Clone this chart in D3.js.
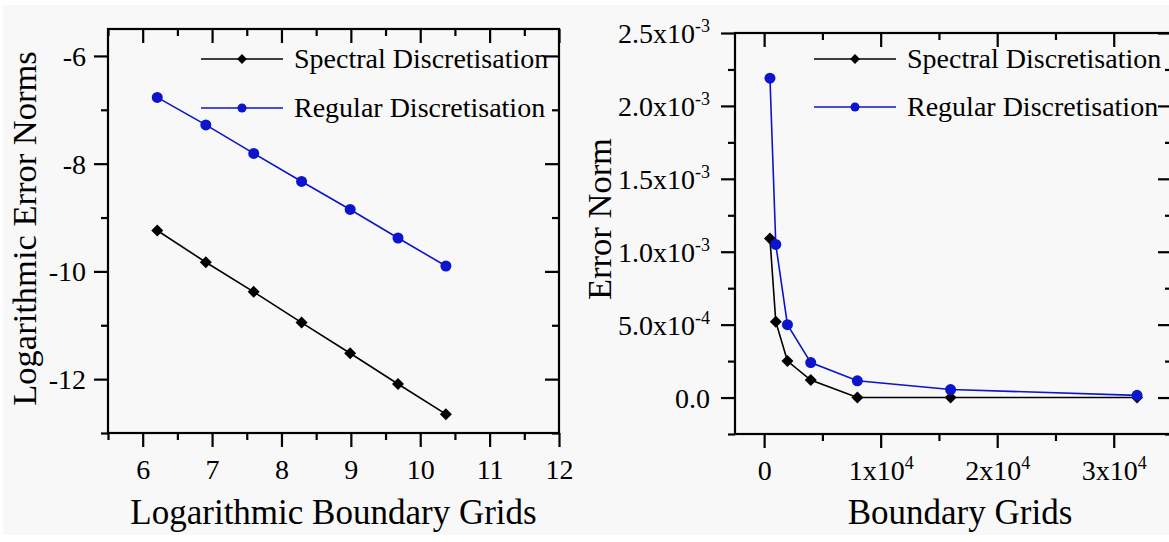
<!DOCTYPE html>
<html>
<head>
<meta charset="utf-8">
<script src="https://cdn.jsdelivr.net/npm/d3@7"></script>
<style>
  body { margin: 0; background: #ffffff; }
  svg { display: block; font-family: "Liberation Serif", "Times New Roman", serif; }
</style>
</head>
<body>
<script>
// series names, shared by both panels
var seriesNames = ["Spectral Discretisation", "Regular Discretisation"];

// left panel: log of boundary grids vs log of error norms
var logGrids = [6.21, 6.91, 7.60, 8.29, 8.99, 9.68, 10.37];
var logSpectral = [-9.24, -9.83, -10.38, -10.95, -11.52, -12.09, -12.65];
var logRegular = [-6.77, -7.28, -7.81, -8.33, -8.85, -9.38, -9.90];
var leftXTicks = [6, 7, 8, 9, 10, 11, 12];
var leftYTicks = [-6, -8, -10, -12];

// right panel: boundary grids vs error norm
var grids = [500, 1000, 2000, 4000, 8000, 16000, 32000];
var errSpectral = [1.09e-3, 5.2e-4, 2.5e-4, 1.2e-4, 0, 0, 0];
var errRegular = [2.19e-3, 1.05e-3, 5.0e-4, 2.4e-4, 1.15e-4, 5.5e-5, 1.5e-5];
var rightXTicks = [0, 1e4, 2e4, 3e4];
var rightYTicks = [0, 5e-4, 1e-3, 1.5e-3, 2e-3, 2.5e-3];

var W = 1169, H = 542;
var ink = "#000", blue = "#0c14cc";

var svg = d3.select("body").append("svg")
    .attr("width", W)
    .attr("height", H);

svg.append("rect").attr("width", W).attr("height", H).attr("fill", "#fff");
svg.append("rect").attr("x", 3).attr("y", 5).attr("width", W).attr("height", 530).attr("fill", "#f8f8f8");

// split a number into mantissa / exponent parts for the "x10" labels
function sci(v, digits) {
    if (v === 0) return null;
    var e = Math.floor(Math.log10(Math.abs(v)) + 1e-9);
    var m = v / Math.pow(10, e);
    return { m: digits ? m.toFixed(digits) : Math.round(m).toString(), e: e };
}

function writeLabel(textSel, v, mode) {
    textSel.text(null);
    if (mode == "plain") { textSel.text(v); return; }
    var s = sci(v, mode == "y" ? 1 : 0);
    if (!s) { textSel.text(mode == "y" ? "0.0" : "0"); return; }
    textSel.append("tspan").text(s.m + "x10");
    textSel.append("tspan").attr("font-size", 18).attr("dy", -11).text(s.e);
}

function panel(opt) {
    var x = d3.scaleLinear().domain(opt.xDomain).range(opt.xRange);
    var y = d3.scaleLinear().domain(opt.yDomain).range(opt.yRange);
    var g = svg.append("g");
    var x0 = opt.xRange[0], x1 = opt.xRange[1], y0 = opt.yRange[0], y1 = opt.yRange[1];

    function ax(a, tx, ty, vals, size, labels) {
        var gg = g.append("g").attr("transform", "translate(" + tx + "," + ty + ")")
            .call(a.tickValues(vals).tickSize(size).tickSizeOuter(0).tickPadding(14)
                .tickFormat(labels ? null : ""));
        gg.attr("font-family", null).attr("font-size", null);
        gg.select(".domain").remove();
        gg.selectAll("line").attr("stroke", ink).attr("stroke-width", 2.2);
        return gg;
    }
    // bottom + left with labels, ticks outward
    var bx = ax(d3.axisBottom(x), 0, y0, opt.xMajor, 14, true);
    ax(d3.axisBottom(x), 0, y0, opt.xMinor, 7, false);
    var ly = ax(d3.axisLeft(y), x0, 0, opt.yMajor, 14, true);
    ax(d3.axisLeft(y), x0, 0, opt.yMinor, 7, false);
    // top + right, ticks inward
    ax(d3.axisTop(x), 0, y1, opt.xMajor, -14, false);
    ax(d3.axisTop(x), 0, y1, opt.xMinor, -7, false);
    ax(d3.axisRight(y), x1, 0, opt.yMajor, -14, false);
    ax(d3.axisRight(y), x1, 0, opt.yMinor, -7, false);

    bx.selectAll("text").attr("font-size", 28).attr("fill", ink)
        .attr("y", 46).attr("dy", null)
        .each(function(d) { writeLabel(d3.select(this), d, opt.xMode); });
    ly.selectAll("text").attr("font-size", 28).attr("fill", ink)
        .attr("x", -opt.yLabelGap).attr("dy", "0.34em")
        .each(function(d) { writeLabel(d3.select(this), d, opt.yMode); });

    g.append("rect")
        .attr("x", x0).attr("y", y1)
        .attr("width", x1 - x0).attr("height", y0 - y1)
        .attr("fill", "none").attr("stroke", ink).attr("stroke-width", 2.2);

    // axis titles
    g.append("text")
        .attr("transform", "translate(" + opt.xTitlePos + ")")
        .attr("text-anchor", "middle").attr("font-size", 35).attr("fill", ink)
        .text(opt.xTitle);
    g.append("text")
        .attr("transform", "translate(" + opt.yTitlePos + ") rotate(-90)")
        .attr("text-anchor", "middle").attr("font-size", 34.5).attr("fill", ink)
        .text(opt.yTitle);

    var series = [
        { name: seriesNames[0], ys: opt.spectral, color: ink, shape: "diamond" },
        { name: seriesNames[1], ys: opt.regular, color: blue, shape: "circle" }
    ];
    var line = d3.line().x(function(d) { return x(d[0]); }).y(function(d) { return y(d[1]); });

    function marker(sel, s, big) {
        if (s.shape == "diamond") {
            sel.attr("d", d3.symbol(d3.symbolSquare, big ? 72 : 48)());
        } else {
            sel.attr("d", d3.symbol(d3.symbolCircle, big ? 95 : 64)());
        }
        sel.attr("fill", s.color);
    }

    series.forEach(function(s) {
        var pts = opt.xs.map(function(v, i) { return [v, s.ys[i]]; });
        g.append("path").datum(pts)
            .attr("d", line).attr("fill", "none")
            .attr("stroke", s.color).attr("stroke-width", 1.6);
        g.selectAll(null).data(pts).enter().append("path")
            .attr("transform", function(d) {
                return "translate(" + x(d[0]) + "," + y(d[1]) + ")" + (s.shape == "diamond" ? " rotate(45)" : "");
            })
            .call(marker, s, true);
    });

    // legend
    var lg = g.append("g");
    series.forEach(function(s, i) {
        var ry = opt.legend.y[i];
        lg.append("line")
            .attr("x1", opt.legend.x).attr("x2", opt.legend.x + 82)
            .attr("y1", ry).attr("y2", ry)
            .attr("stroke", s.color).attr("stroke-width", 1.6);
        lg.append("path")
            .attr("transform", "translate(" + (opt.legend.x + 41) + "," + ry + ")" + (s.shape == "diamond" ? " rotate(45)" : ""))
            .call(marker, s, false);
        lg.append("text")
            .attr("x", opt.legend.x + 93).attr("y", ry + 9)
            .attr("font-size", 28).attr("fill", ink)
            .text(s.name);
    });
}

panel({
    xDomain: [5.5, 12], xRange: [108, 559],
    yDomain: [-13, -5.5], yRange: [433, 29],
    xMajor: leftXTicks,
    xMinor: [5.5, 6.5, 7.5, 8.5, 9.5, 10.5, 11.5],
    yMajor: leftYTicks,
    yMinor: [-7, -9, -11, -13],
    xMode: "plain", yMode: "plain", yLabelGap: 22,
    xs: logGrids, spectral: logSpectral, regular: logRegular,
    xTitle: "Logarithmic Boundary Grids", xTitlePos: [333.5, 524],
    yTitle: "Logarithmic Error Norms", yTitlePos: [36, 228.5],
    legend: { x: 201, y: [59, 108] }
});

panel({
    xDomain: [-2500, 35000], xRange: [735, 1172],
    yDomain: [-2.5e-4, 2.5e-3], yRange: [434, 33],
    xMajor: rightXTicks,
    xMinor: [5000, 15000, 25000],
    yMajor: rightYTicks,
    yMinor: [-2.5e-4, 2.5e-4, 7.5e-4, 1.25e-3, 1.75e-3, 2.25e-3],
    xMode: "x", yMode: "y", yLabelGap: 25,
    xs: grids, spectral: errSpectral, regular: errRegular,
    xTitle: "Boundary Grids", xTitlePos: [960, 524],
    yTitle: "Error Norm", yTitlePos: [611, 219],
    legend: { x: 814, y: [59, 107] }
});
</script>
</body>
</html>
